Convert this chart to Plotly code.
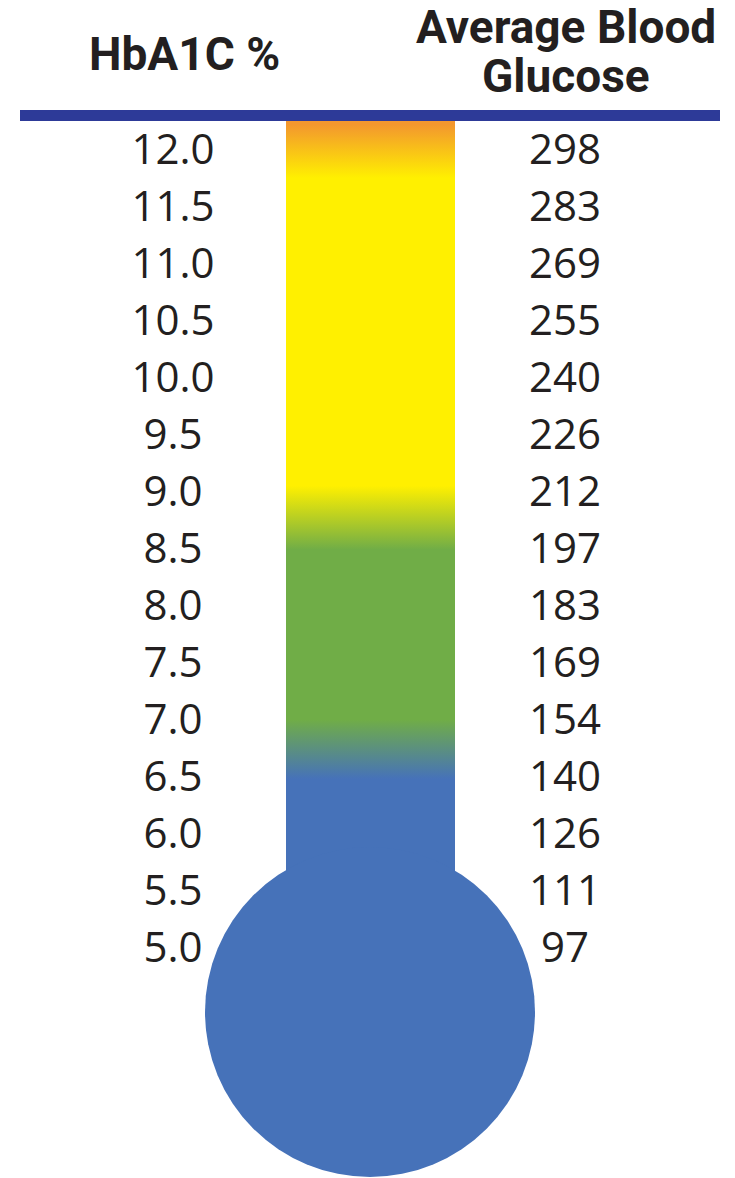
import plotly.graph_objects as go

# HbA1C % and the matching estimated average blood glucose (mg/dL)
hba1c = [12.0, 11.5, 11.0, 10.5, 10.0, 9.5, 9.0, 8.5, 8.0, 7.5, 7.0, 6.5, 6.0, 5.5, 5.0]
hba1c_labels = ["12.0", "11.5", "11.0", "10.5", "10.0", "9.5", "9.0", "8.5",
                "8.0", "7.5", "7.0", "6.5", "6.0", "5.5", "5.0"]
glucose = [298, 283, 269, 255, 240, 226, 212, 197, 183, 169, 154, 140, 126, 111, 97]

# colour bands of the thermometer, in HbA1C units (top to bottom)
band_levels = [12.25, 11.78, 9.08, 8.52, 7.03, 6.51]
band_colors = ["#F3972E", "#FFF000", "#FFF000", "#70AD47", "#70AD47", "#4672B9"]

W, H = 735, 1178
PX_PER_UNIT = 114.0          # vertical pixels per 1 % HbA1C
Y_TOP = 12.0 + 153 / PX_PER_UNIT
Y_BOT = Y_TOP - H / PX_PER_UNIT


def py(p):
    """pixel row -> HbA1C axis value"""
    return Y_TOP - p / PX_PER_UNIT


TEXT = "#231F20"
BLUE = "#4672B9"
RULE = "#2D3A98"

tube_x0, tube_x1 = 286, 455
tube_top = py(121)
bulb_cx, bulb_cy, bulb_r = 370, py(1012), 165
tube_bot = bulb_cy

# gradient stops normalised over the tube (bottom = 0, top = 1)
span = tube_top - tube_bot
scale = [[0.0, BLUE]]
for lvl, col in sorted(zip(band_levels, band_colors)):
    scale.append([min(1.0, (lvl - tube_bot) / span), col])
scale.append([1.0, band_colors[0]])
scale = sorted(scale, key=lambda s: s[0])

fig = go.Figure()

fig.add_trace(go.Scatter(
    x=[tube_x0, tube_x1, tube_x1, tube_x0, tube_x0],
    y=[tube_bot, tube_bot, tube_top, tube_top, tube_bot],
    mode="lines", line=dict(width=0), fill="toself",
    fillgradient=dict(type="vertical", colorscale=scale,
                      start=tube_bot, stop=tube_top),
    hoverinfo="skip", showlegend=False,
))

fig.add_trace(go.Scatter(
    x=[173] * len(hba1c), y=hba1c, text=hba1c_labels, mode="text",
    textposition="middle center",
    textfont=dict(family="Open Sans", size=42, color=TEXT),
    hoverinfo="skip", showlegend=False,
))

fig.add_trace(go.Scatter(
    x=[565] * len(hba1c), y=hba1c, text=[str(g) for g in glucose], mode="text",
    textposition="middle center",
    textfont=dict(family="Open Sans", size=42, color=TEXT),
    hoverinfo="skip", showlegend=False,
))

# thermometer bulb
fig.add_shape(type="circle", xref="x", yref="y",
              x0=bulb_cx - bulb_r, x1=bulb_cx + bulb_r,
              y0=bulb_cy - bulb_r / PX_PER_UNIT, y1=bulb_cy + bulb_r / PX_PER_UNIT,
              fillcolor=BLUE, line=dict(width=0), layer="above")

# header rule
fig.add_shape(type="line", xref="x", yref="y", x0=20, x1=720,
              y0=py(115.5), y1=py(115.5), line=dict(color=RULE, width=11))

head_font = dict(family="Roboto", size=46, color=TEXT, weight="bold")
for txt, x, y in [("HbA1C %", 184, 54), ("Average Blood", 566, 27), ("Glucose", 566, 76)]:
    fig.add_annotation(text=txt, x=x, y=py(y), xref="x", yref="y",
                       xanchor="center", yanchor="middle", showarrow=False,
                       font=head_font)

fig.update_layout(
    width=W, height=H, margin=dict(l=0, r=0, t=0, b=0),
    paper_bgcolor="white", plot_bgcolor="white",
    xaxis=dict(range=[0, W], visible=False, fixedrange=True),
    yaxis=dict(range=[Y_BOT, Y_TOP], visible=False, fixedrange=True),
    showlegend=False,
)

fig.write_html("out.html", config={"displayModeBar": False})
